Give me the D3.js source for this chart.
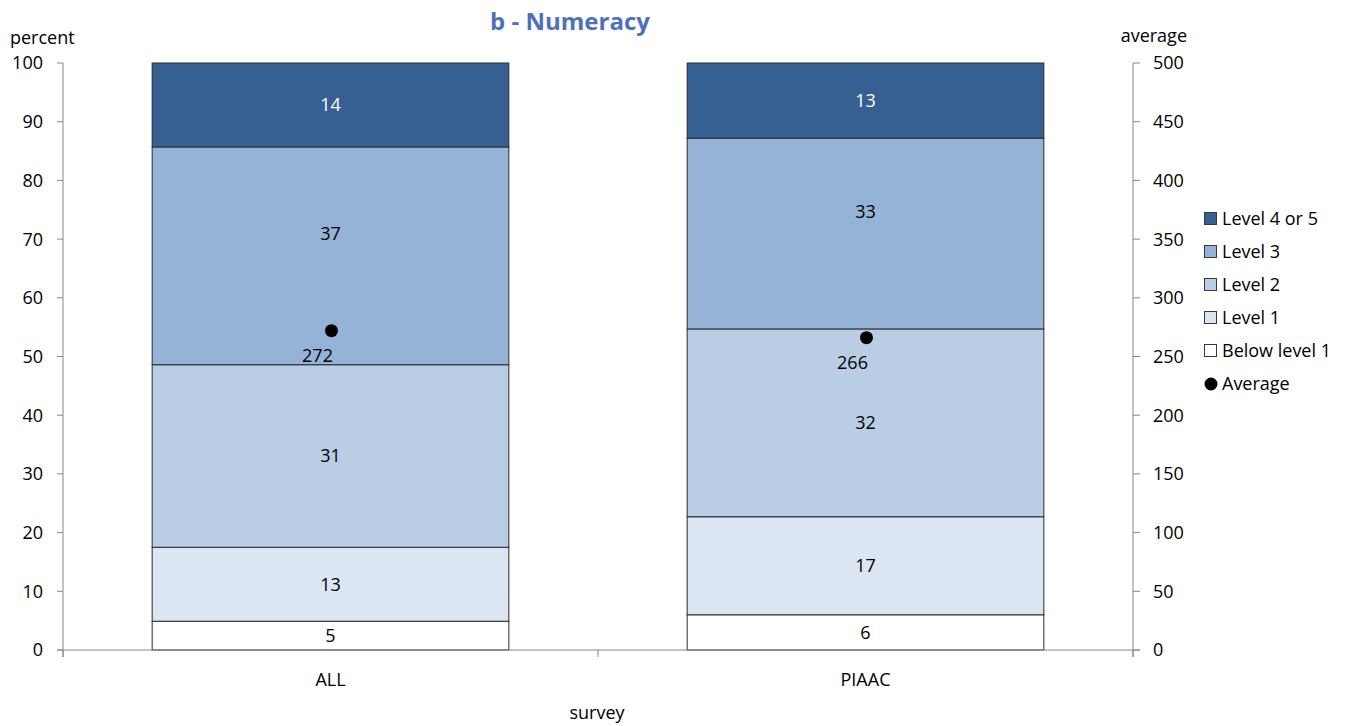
<!DOCTYPE html>
<html>
<head>
<meta charset="utf-8">
<script src="https://cdn.jsdelivr.net/npm/d3@7"></script>
<style>
  body { margin: 0; background: #fff; }
  svg { display: block; font-family: "Open Sans", "Noto Sans", sans-serif; }
</style>
</head>
<body>
<svg id="chart" width="1357" height="726"></svg>
<script>
const categories = ["ALL", "PIAAC"];
const levels = ["Below level 1", "Level 1", "Level 2", "Level 3", "Level 4 or 5"];
const belowLevel1 = [4.9, 6.0];
const level1 = [12.6, 16.7];
const level2 = [31.1, 32.0];
const level3 = [37.1, 32.5];
const level4or5 = [14.3, 12.8];
const averages = [272, 266];
const leftTicks = [0, 10, 20, 30, 40, 50, 60, 70, 80, 90, 100];
const rightTicks = [0, 50, 100, 150, 200, 250, 300, 350, 400, 450, 500];
const colors = ["#ffffff", "#dce6f2", "#b9cde5", "#95b3d7", "#376092"];
const labelColors = ["#000", "#000", "#000", "#000", "#fff"];
const labelShift = [0, 0, 0, -22, 0];

const seriesVals = [belowLevel1, level1, level2, level3, level4or5];
const rows = categories.map((c, i) => {
  const r = { cat: c };
  levels.forEach((l, j) => r[l] = seriesVals[j][i]);
  return r;
});
const stacked = d3.stack().keys(levels)(rows);

const svg = d3.select("#chart");
const L = 63, R = 1133, T = 63, B = 650;
const x = d3.scaleBand().domain(categories).range([L, R]).paddingInner(1/3).paddingOuter(1/6);
const y = d3.scaleLinear().domain([0, 100]).range([B, T]);
const y2 = d3.scaleLinear().domain([0, 500]).range([B, T]);
const fs = 18;

// bars
stacked.forEach((s, j) => {
  const g = svg.append("g");
  g.selectAll("rect").data(s).join("rect")
    .attr("x", d => x(d.data.cat))
    .attr("y", d => y(d[1]))
    .attr("width", x.bandwidth())
    .attr("height", d => y(d[0]) - y(d[1]))
    .attr("fill", colors[j])
    .attr("stroke", "#2b2b2b")
    .attr("stroke-width", 1);
  g.selectAll("text").data(s).join("text")
    .attr("x", d => x(d.data.cat) + x.bandwidth() / 2)
    .attr("y", d => (y(d[0]) + y(d[1])) / 2 + labelShift[j])
    .attr("dy", "0.36em")
    .attr("text-anchor", "middle")
    .attr("font-size", fs)
    .attr("fill", labelColors[j])
    .text(d => d3.format(".0f")(d[1] - d[0]));
});

// axes
const axisColor = "#868686";
svg.append("line").attr("x1", L).attr("x2", L).attr("y1", T).attr("y2", B + 7).attr("stroke", axisColor);
svg.append("line").attr("x1", R).attr("x2", R).attr("y1", T).attr("y2", B + 7).attr("stroke", axisColor);
svg.append("line").attr("x1", L - 6).attr("x2", R + 7).attr("y1", B).attr("y2", B).attr("stroke", axisColor);

const gl = svg.append("g");
gl.selectAll("line").data(leftTicks).join("line")
  .attr("x1", L - 6).attr("x2", L).attr("y1", d => y(d)).attr("y2", d => y(d)).attr("stroke", axisColor);
gl.selectAll("text").data(leftTicks).join("text")
  .attr("x", 43).attr("y", d => y(d)).attr("dy", "0.36em")
  .attr("text-anchor", "end").attr("font-size", fs).attr("fill", "#000").text(d => d);

const gr = svg.append("g");
gr.selectAll("line").data(rightTicks).join("line")
  .attr("x1", R).attr("x2", R + 7).attr("y1", d => y2(d)).attr("y2", d => y2(d)).attr("stroke", axisColor);
gr.selectAll("text").data(rightTicks).join("text")
  .attr("x", 1153).attr("y", d => y2(d)).attr("dy", "0.36em")
  .attr("text-anchor", "start").attr("font-size", fs).attr("fill", "#000").text(d => d);

// x ticks between categories
const xTicks = [L, (x(categories[0]) + x.bandwidth() + x(categories[1])) / 2, R];
svg.append("g").selectAll("line").data(xTicks).join("line")
  .attr("x1", d => d).attr("x2", d => d).attr("y1", B).attr("y2", B + 7).attr("stroke", axisColor);
svg.append("g").selectAll("text").data(categories).join("text")
  .attr("x", d => x(d) + x.bandwidth() / 2).attr("y", 686)
  .attr("text-anchor", "middle").attr("font-size", fs).attr("fill", "#000").text(d => d);

// averages
const avg = categories.map((c, i) => ({ cat: c, v: averages[i] }));
svg.append("g").selectAll("circle").data(avg).join("circle")
  .attr("cx", d => x(d.cat) + x.bandwidth() / 2 + 1)
  .attr("cy", d => y2(d.v))
  .attr("r", 6.5).attr("fill", "#000");
svg.append("g").selectAll("text").data(avg).join("text")
  .attr("x", d => x(d.cat) + x.bandwidth() / 2 - 13)
  .attr("y", d => y2(d.v) + 31)
  .attr("text-anchor", "middle").attr("font-size", fs).attr("fill", "#000").text(d => d.v);

// titles
svg.append("text").attr("x", 570).attr("y", 30).attr("text-anchor", "middle")
  .attr("font-size", 24).attr("font-weight", "bold").attr("fill", "#4f6fba").text("b - Numeracy");
svg.append("text").attr("x", 10).attr("y", 44).attr("font-size", fs).attr("fill", "#000").text("percent");
svg.append("text").attr("x", 1187).attr("y", 42).attr("text-anchor", "end").attr("font-size", fs).attr("fill", "#000").text("average");
svg.append("text").attr("x", 597).attr("y", 719).attr("text-anchor", "middle").attr("font-size", fs).attr("fill", "#000").text("survey");

// legend
const legendItems = levels.slice().reverse().map((l) => ({ name: l, color: colors[levels.indexOf(l)] }));
const lg = svg.append("g");
legendItems.forEach((d, i) => {
  const yy = 219 + i * 33;
  lg.append("rect").attr("x", 1204.5).attr("y", yy - 6.5).attr("width", 12).attr("height", 12)
    .attr("fill", d.color).attr("stroke", "#3a3a3a");
  lg.append("text").attr("x", 1222).attr("y", yy).attr("dy", "0.36em").attr("font-size", fs).attr("fill", "#000").text(d.name);
});
const ay = 219 + 5 * 33;
lg.append("circle").attr("cx", 1211).attr("cy", ay).attr("r", 6.5).attr("fill", "#000");
lg.append("text").attr("x", 1222).attr("y", ay).attr("dy", "0.36em").attr("font-size", fs).attr("fill", "#000").text("Average");
</script>
</body>
</html>
